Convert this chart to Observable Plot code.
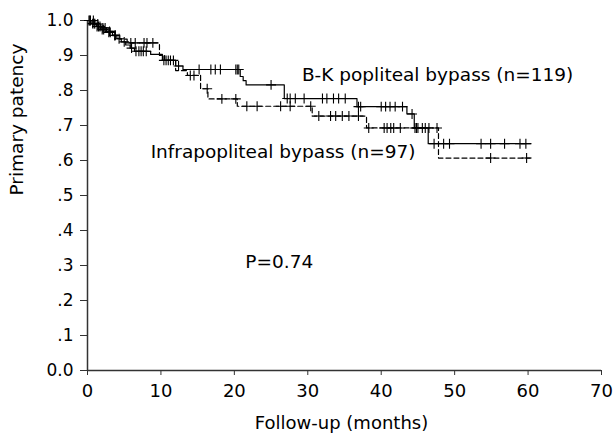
<!DOCTYPE html>
<html><head><meta charset="utf-8">
<script src="https://cdn.jsdelivr.net/npm/d3@7"></script>
<script src="https://cdn.jsdelivr.net/npm/@observablehq/plot@0.6"></script>
<style>body{margin:0;background:#fff}</style>
</head><body><div id="chart"></div>
<script>
// B-K popliteal bypass (n=119): step times (months) and survival after each step
const bkTimes    = [0, 0.5, 1.2, 1.8, 2.6, 3.4, 4.0, 4.6, 5.2, 5.8, 6.4, 8.6, 10.2, 12.0, 13.0, 20.8, 21.2, 21.6, 26.8, 36.7, 43.5, 44.5, 46.4, 60.4];
const bkSurvival = [1.0, 0.991, 0.983, 0.974, 0.966, 0.957, 0.948, 0.939, 0.930, 0.921, 0.912, 0.903, 0.886, 0.870, 0.860, 0.840, 0.828, 0.816, 0.777, 0.754, 0.733, 0.693, 0.648, 0.648];
const bkCensored = [0.2, 0.4, 0.7, 0.9, 1.0, 1.3, 1.5, 1.7, 2.0, 2.2, 2.9, 3.1, 3.7, 4.3, 5.0, 6.0, 6.6, 7.0, 7.3, 7.6, 8.0, 10.4, 10.7, 11.0, 11.3, 11.7, 12.4, 15.2, 16.8, 17.4, 18.1, 20.2, 20.4, 20.6, 25.0, 27.2, 27.6, 28.3, 29.5, 32.0, 32.6, 33.5, 34.2, 35.1, 36.9, 37.2, 40.0, 40.6, 41.2, 41.9, 42.9, 44.2, 44.6, 44.8, 45.0, 45.6, 46.0, 47.2, 48.5, 49.3, 53.6, 54.9, 56.8, 58.9, 59.7];

// Infrapopliteal bypass (n=97)
const infraTimes    = [0, 1.0, 1.8, 2.6, 3.5, 4.4, 5.4, 9.8, 10.5, 12.0, 13.6, 15.4, 16.4, 20.4, 30.6, 38.0, 47.8, 60.3];
const infraSurvival = [1.0, 0.990, 0.979, 0.969, 0.958, 0.947, 0.936, 0.900, 0.886, 0.857, 0.843, 0.805, 0.776, 0.755, 0.727, 0.693, 0.607, 0.607];
const infraCensored = [0.3, 0.8, 1.4, 2.1, 2.4, 3.0, 3.8, 5.9, 6.5, 7.7, 8.1, 8.9, 14.0, 14.5, 16.3, 18.3, 20.2, 21.7, 23.1, 26.3, 27.6, 30.4, 31.5, 33.1, 33.8, 34.7, 35.6, 36.9, 38.3, 40.4, 40.8, 41.3, 41.7, 42.6, 46.5, 47.6, 54.9, 59.8];

const xTicks = [0, 10, 20, 30, 40, 50, 60, 70];
const yTicks = [0, 0.1, 0.2, 0.3, 0.4, 0.5, 0.6, 0.7, 0.8, 0.9, 1.0];
const yTickLabels = ["0.0", ".1", ".2", ".3", ".4", ".5", ".6", ".7", ".8", ".9", "1.0"];

const bkLabel = "B-K popliteal bypass (n=119)";
const infraLabel = "Infrapopliteal bypass (n=97)";
const pLabel = "P=0.74";
const xTitle = "Follow-up (months)";
const yTitle = "Primary patency";

function stepValue(times, vals, t) {
  let v = vals[0];
  for (let i = 0; i < times.length; i++) if (times[i] <= t) v = vals[i];
  return v;
}
const bkCurve = bkTimes.map((t, i) => ({t, v: bkSurvival[i]}));
const infraCurve = infraTimes.map((t, i) => ({t, v: infraSurvival[i]}));

const chart = Plot.plot({
  width: 614, height: 438,
  marginLeft: 87, marginRight: 13, marginTop: 20, marginBottom: 68,
  style: {fontFamily: "DejaVu Sans", fontSize: "17px", color: "#000", background: "#fff"},
  x: {domain: [0, 70]},
  y: {domain: [0, 1]},
  marks: [
    Plot.axisX({ticks: xTicks, tickSize: 5, tickPadding: 9, fontSize: 18, label: null, stroke: "#333"}),
    Plot.axisY({ticks: yTicks, tickFormat: d => yTickLabels[Math.round(d * 10)], tickSize: 7, tickPadding: 7, fontSize: 17, label: null, stroke: "#333"}),
    Plot.ruleY([0], {stroke: "#333", strokeWidth: 1.5}),
    Plot.ruleX([0], {stroke: "#333", strokeWidth: 1.5}),
    Plot.line(infraCurve, {x: "t", y: "v", curve: "step-after", stroke: "#000", strokeWidth: 1.2, strokeDasharray: "5,3"}),
    Plot.line(bkCurve, {x: "t", y: "v", curve: "step-after", stroke: "#000", strokeWidth: 1.2}),
    Plot.dot(infraCensored, {x: d => d, y: d => stepValue(infraTimes, infraSurvival, d), symbol: "plus", r: 3.3, stroke: "#000", strokeWidth: 1.1}),
    Plot.dot(bkCensored, {x: d => d, y: d => stepValue(bkTimes, bkSurvival, d), symbol: "plus", r: 3.3, stroke: "#000", strokeWidth: 1.1}),
    Plot.text([bkLabel], {x: () => 29.2, y: () => 0.843, text: d => d, textAnchor: "start", fontSize: 18.5, fill: "#000"}),
    Plot.text([infraLabel], {x: () => 8.6, y: () => 0.624, text: d => d, textAnchor: "start", fontSize: 18.5, fill: "#000"}),
    Plot.text([pLabel], {x: () => 21.5, y: () => 0.309, text: d => d, textAnchor: "start", fontSize: 18.5, fill: "#000"}),
    Plot.text([xTitle], {frameAnchor: "bottom", text: d => d, dy: 58, dx: -3, fontSize: 18, fill: "#000"}),
    Plot.text([yTitle], {frameAnchor: "left", text: d => d, dx: -70, rotate: -90, fontSize: 18.5, fill: "#000"})
  ]
});
document.getElementById("chart").appendChild(chart);
</script>
</body></html>
